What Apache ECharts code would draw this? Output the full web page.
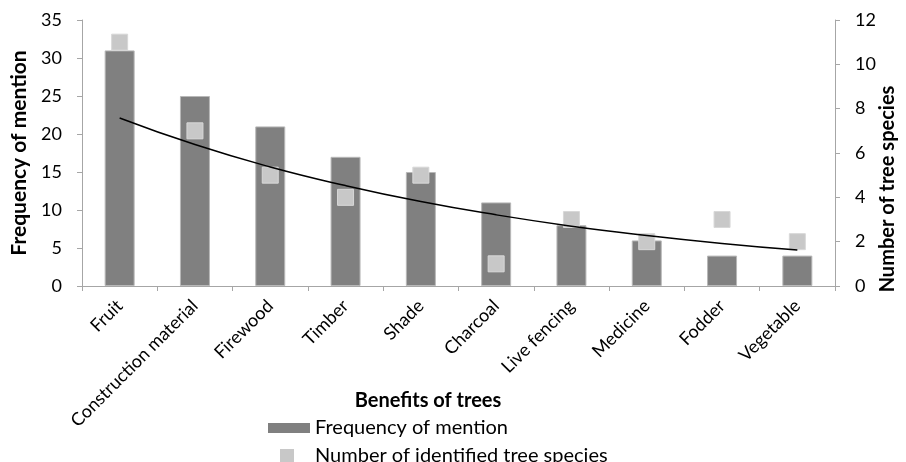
<!DOCTYPE html>
<html>
<head>
<meta charset="utf-8">
<script src="https://cdn.jsdelivr.net/npm/echarts@6/dist/echarts.min.js"></script>
<style>html,body{margin:0;padding:0;background:#fff;}#c{width:906px;height:462px;}</style>
</head>
<body>
<div id="c"></div>
<script>
const categories = ['Fruit','Construction material','Firewood','Timber','Shade','Charcoal','Live fencing','Medicine','Fodder','Vegetable'];
const frequency = [31, 25, 21, 17, 15, 11, 8, 6, 4, 4];
const species = [11, 7, 5, 4, 5, 1, 3, 2, 3, 2];
const trend = [7.58, 6.38, 5.37, 4.53, 3.81, 3.21, 2.70, 2.28, 1.92, 1.62];
const leftTicks = [0, 35, 5];
const rightTicks = [0, 12, 2];

const FONT = 'Lato';
const axisGray = '#a6a6a6';
const chart = echarts.init(document.getElementById('c'), null, {renderer: 'canvas'});
chart.setOption({
  animation: false,
  textStyle: {fontFamily: FONT},
  grid: {left: 82, right: 71, top: 20, bottom: 176},
  legend: [
    {
      left: 268, top: 418, orient: 'vertical', padding: 0,
      itemWidth: 42, itemHeight: 10, icon: 'rect',
      data: ['Frequency of mention'],
      itemStyle: {borderWidth: 0},
      textStyle: {fontFamily: FONT, fontSize: 20, color: '#000'}
    },
    {
      left: 280, top: 446, orient: 'vertical', padding: 0,
      itemWidth: 14, itemHeight: 14, icon: 'rect',
      data: ['Number of identified tree species'],
      itemStyle: {borderWidth: 0},
      textStyle: {fontFamily: FONT, fontSize: 20, color: '#000', padding: [0, 0, 0, 16]}
    }
  ],
  xAxis: {
    type: 'category',
    data: categories,
    name: 'Benefits of trees',
    nameLocation: 'middle',
    nameGap: 105,
    nameMoveOverlap: false,
    nameTextStyle: {fontFamily: FONT, fontWeight: 'bold', fontSize: 20, color: '#000', padding: [0, 61, 0, 0]},
    axisLine: {lineStyle: {color: axisGray, width: 1}},
    axisTick: {show: true, length: 5, lineStyle: {color: axisGray}},
    axisLabel: {rotate: 45, margin: 17, fontFamily: FONT, fontSize: 18, color: '#000', interval: 0}
  },
  yAxis: [
    {
      type: 'value', min: leftTicks[0], max: leftTicks[1], interval: leftTicks[2],
      name: 'Frequency of mention', nameLocation: 'middle', nameGap: 52,
      nameMoveOverlap: false,
      nameTextStyle: {fontFamily: FONT, fontWeight: 'bold', fontSize: 21, color: '#000'},
      axisLine: {show: true, lineStyle: {color: axisGray}},
      axisTick: {show: true, length: 5, lineStyle: {color: axisGray}},
      axisLabel: {margin: 20, fontFamily: FONT, fontSize: 18, color: '#000'},
      splitLine: {show: false}
    },
    {
      type: 'value', min: rightTicks[0], max: rightTicks[1], interval: rightTicks[2],
      position: 'right',
      name: 'Number of tree species', nameLocation: 'middle', nameGap: 43,
      nameMoveOverlap: false,
      nameTextStyle: {fontFamily: FONT, fontWeight: 'bold', fontSize: 20, color: '#000', padding: [0, 72, 0, 0]},
      axisLine: {show: true, lineStyle: {color: axisGray}},
      axisTick: {show: true, length: 5, lineStyle: {color: axisGray}},
      axisLabel: {margin: 20, fontFamily: FONT, fontSize: 18, color: '#000'},
      splitLine: {show: false}
    }
  ],
  series: [
    {
      name: 'Frequency of mention', type: 'bar', yAxisIndex: 0,
      data: frequency, barWidth: 30,
      itemStyle: {color: '#808080', borderColor: '#b8b8b8', borderWidth: 1}
    },
    {
      name: 'Number of identified tree species', type: 'scatter', yAxisIndex: 1,
      data: species, symbol: 'rect', symbolSize: 16,
      itemStyle: {color: '#c8c8c8', borderColor: '#d8d8d8', borderWidth: 1, opacity: 1}
    },
    {
      name: 'Trend', type: 'line', yAxisIndex: 1,
      data: trend, smooth: true, showSymbol: false, symbol: 'none',
      lineStyle: {color: '#000', width: 1.5}, z: 5
    }
  ]
});
</script>
</body>
</html>
